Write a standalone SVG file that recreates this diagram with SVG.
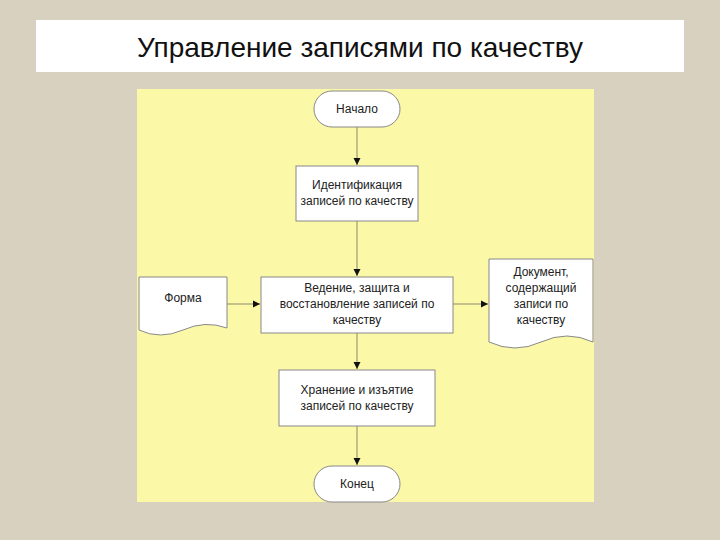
<svg xmlns="http://www.w3.org/2000/svg" width="720" height="540" viewBox="0 0 720 540">
<defs>
<marker id="ar" markerWidth="8" markerHeight="8" refX="7" refY="4" orient="auto" markerUnits="userSpaceOnUse"><path d="M0,0.5 L7,4 L0,7.5Z" fill="#111"/></marker>
</defs>
<style>
.n{fill:#fff;stroke:#888;stroke-width:1}
.t{font-family:"Liberation Sans",Arial,sans-serif;font-size:12px;fill:#222;text-anchor:middle}
.c{stroke:#8a8a66;stroke-width:1;fill:none;marker-end:url(#ar)}
</style>
<rect width="720" height="540" fill="#d8d1bf"/>
<rect x="36" y="20" width="648" height="52" fill="#fff"/>
<text x="360" y="57" font-family="Liberation Sans,Arial,sans-serif" font-size="28" text-anchor="middle" fill="#111">Управление записями по качеству</text>
<rect x="137" y="89" width="457" height="413" fill="#fbf8a8"/>
<g id="connectors">
<line class="c" x1="357" y1="127" x2="357" y2="165"/>
<line class="c" x1="357" y1="221" x2="357" y2="276"/>
<line class="c" x1="227" y1="304" x2="260" y2="304"/>
<line class="c" x1="453" y1="304" x2="488" y2="304"/>
<line class="c" x1="357" y1="333" x2="357" y2="369"/>
<line class="c" x1="357" y1="426" x2="357" y2="465"/>
</g>
<g id="start"><rect class="n" x="314" y="91" width="86" height="36" rx="18"/><text class="t" x="357" y="113">Начало</text></g>
<g id="ident"><rect class="n" x="296" y="166" width="122" height="55"/><text class="t" x="357" y="189">Идентификация</text><text class="t" x="357" y="205">записей по качеству</text></g>
<g id="forma"><path class="n" d="M139,277 H227 V328 Q205,320 183,330 Q160,340 139,330 Z"/><text class="t" x="183" y="302">Форма</text></g>
<g id="vedenie"><rect class="n" x="261" y="277" width="192" height="56"/><text class="t" x="357" y="292">Ведение, защита и</text><text class="t" x="357" y="308">восстановление записей по</text><text class="t" x="357" y="324">качеству</text></g>
<g id="doc"><path class="n" d="M489,259 H593 V342 Q567,330 541,342 Q515,354 489,342 Z"/><text class="t" x="541" y="276">Документ,</text><text class="t" x="541" y="292">содержащий</text><text class="t" x="541" y="308">записи по</text><text class="t" x="541" y="324">качеству</text></g>
<g id="khran"><rect class="n" x="279" y="370" width="156" height="56"/><text class="t" x="357" y="394">Хранение и изъятие</text><text class="t" x="357" y="410">записей по качеству</text></g>
<g id="end"><rect class="n" x="314" y="466" width="86" height="36" rx="18"/><text class="t" x="357" y="488">Конец</text></g>
</svg>
